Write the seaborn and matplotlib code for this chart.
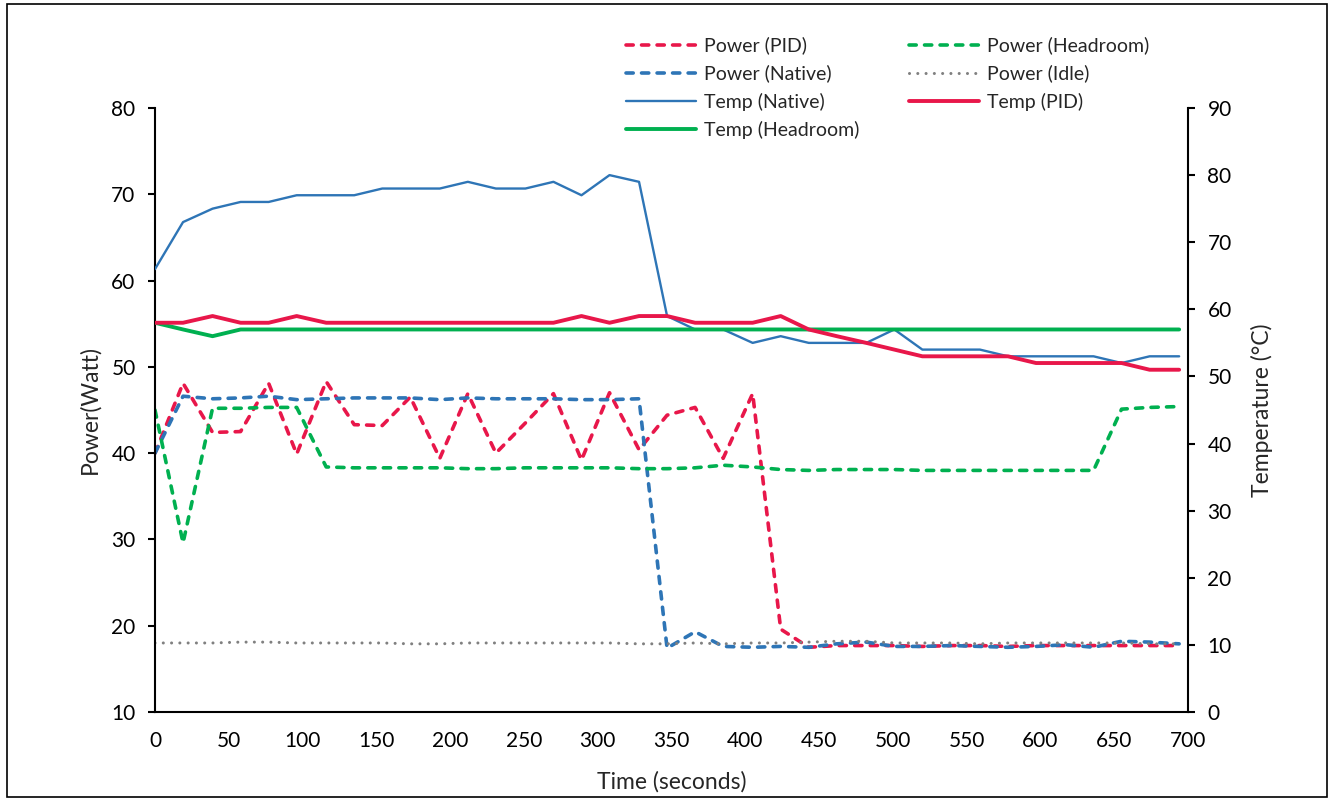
import matplotlib
matplotlib.use("Agg")
import matplotlib.pyplot as plt
import seaborn as sns
import pandas as pd
from matplotlib.patches import Rectangle

# sample times (seconds)
time_s = [0, 19, 39, 58, 77, 96, 116, 135, 154, 173, 193, 212, 231, 251, 270, 289,
          308, 328, 347, 366, 385, 405, 424, 443, 462, 482, 501, 520, 540, 559, 578,
          597, 617, 636, 655, 674, 694]

# power (W), left axis
power_pid = [40.0, 48.1, 42.4, 42.5, 48.1, 39.9, 48.3, 43.3, 43.2, 46.5, 39.4, 46.9,
             40.0, 43.5, 46.9, 39.2, 47.0, 40.4, 44.4, 45.3, 39.4, 46.9, 19.6, 17.5,
             17.7, 17.7, 17.7, 17.6, 17.7, 17.7, 17.6, 17.7, 17.7, 17.7, 17.7, 17.7, 17.7]
power_native = [40.0, 46.6, 46.3, 46.4, 46.6, 46.2, 46.3, 46.4, 46.4, 46.4, 46.2, 46.4,
                46.3, 46.3, 46.3, 46.2, 46.2, 46.3, 17.4, 19.3, 17.6, 17.5, 17.6, 17.5,
                17.9, 18.1, 17.6, 17.6, 17.7, 17.6, 17.5, 17.6, 17.8, 17.5, 18.2, 18.1, 17.9]
power_headroom = [45.0, 29.6, 45.2, 45.2, 45.3, 45.3, 38.4, 38.3, 38.3, 38.3, 38.3, 38.2,
                  38.2, 38.3, 38.3, 38.3, 38.3, 38.2, 38.2, 38.3, 38.6, 38.4, 38.1, 38.0,
                  38.1, 38.1, 38.1, 38.0, 38.0, 38.0, 38.0, 38.0, 38.0, 38.0, 45.1, 45.3, 45.4]
power_idle = [18.0, 18.0, 18.0, 18.1, 18.1, 18.0, 18.0, 18.0, 18.0, 17.9, 17.9, 18.0,
              18.0, 18.0, 18.0, 18.0, 18.0, 17.9, 17.9, 18.0, 17.9, 18.0, 18.0, 18.1,
              18.2, 18.2, 18.0, 18.0, 18.0, 17.9, 18.0, 18.0, 18.0, 18.0, 18.0, 17.9, 17.9]

# temperature (°C), right axis
temp_native = [66, 73, 75, 76, 76, 77, 77, 77, 78, 78, 78, 79, 78, 78, 79, 77, 80, 79,
               59, 57, 57, 55, 56, 55, 55, 55, 57, 54, 54, 54, 53, 53, 53, 53, 52, 53, 53]
temp_pid = [58, 58, 59, 58, 58, 59, 58, 58, 58, 58, 58, 58, 58, 58, 58, 59, 58, 59,
            59, 58, 58, 58, 59, 57, 56, 55, 54, 53, 53, 53, 53, 52, 52, 52, 52, 51, 51]
temp_headroom = [58, 57, 56] + [57] * 34

RED = "#E8174A"
BLUE = "#2E75B6"
GREEN = "#00B050"
GREY = "#808080"

df = pd.DataFrame({
    "time": time_s,
    "power_pid": power_pid, "power_native": power_native,
    "power_headroom": power_headroom, "power_idle": power_idle,
    "temp_native": temp_native, "temp_pid": temp_pid, "temp_headroom": temp_headroom,
})

sns.set_style("white")
plt.rcParams["font.family"] = ["Lato", "DejaVu Sans"]

fig = plt.figure(figsize=(13.33, 8.01), dpi=100)
ax1 = fig.add_axes([155 / 1333, 1 - 712 / 801, (1188 - 155) / 1333, (712 - 108) / 801])
ax2 = ax1.twinx()

dash = (0, (2.0, 2.3))
dot = (0, (0.01, 2.7))
lines = {}

def draw(ax, col, color, lw, ls="-", cap="butt"):
    sns.lineplot(data=df, x="time", y=col, ax=ax, color=color, linewidth=lw,
                 linestyle=ls, dash_capstyle=cap, legend=False, errorbar=None)
    lines[col] = ax.lines[-1]

draw(ax1, "power_pid", RED, 2.6, dash, "round")
draw(ax1, "power_native", BLUE, 2.6, dash, "round")
draw(ax1, "power_headroom", GREEN, 2.6, dash, "round")
draw(ax1, "power_idle", GREY, 2.2, dot, "round")
draw(ax2, "temp_native", BLUE, 1.7)
draw(ax2, "temp_headroom", GREEN, 2.8)
draw(ax2, "temp_pid", RED, 2.8)

ax1.set_xlim(0, 700)
ax1.set_ylim(10, 80)
ax2.set_ylim(0, 90)
ax1.set_xticks(range(0, 701, 50))
ax1.set_yticks(range(10, 81, 10))
ax2.set_yticks(range(0, 91, 10))

for ax in (ax1, ax2):
    ax.tick_params(direction="out", length=5, width=1.5, labelsize=15, pad=9,
                   colors="black")
    for s in ax.spines.values():
        s.set_linewidth(1.5)
        s.set_color("black")
    ax.spines["top"].set_visible(False)
ax1.spines["right"].set_visible(False)
ax2.spines["left"].set_visible(False)
ax2.spines["bottom"].set_visible(False)

ax1.set_xlabel("Time (seconds)", fontsize=16.5, labelpad=14)
ax1.set_ylabel("Power(Watt)", fontsize=16.5, labelpad=8)
ax2.set_ylabel("Temperature (°C)", fontsize=16.5, labelpad=14)

order = ["power_pid", "power_native", "temp_native", "temp_headroom",
         "power_headroom", "power_idle", "temp_pid"]
labels = ["Power (PID)", "Power (Native)", "Temp (Native)", "Temp (Headroom)",
          "Power (Headroom)", "Power (Idle)", "Temp (PID)"]
fig.legend([lines[k] for k in order], labels, loc="upper left", ncol=2,
           bbox_to_anchor=(616 / 1333, 1 - 27 / 801), frameon=False, borderpad=0,
           fontsize=14, handlelength=3.6, handletextpad=0.4, columnspacing=2.6,
           labelspacing=0.52)

fig.patches.append(Rectangle((7 / 1333, 4 / 801), 1320 / 1333, 793 / 801,
                             transform=fig.transFigure, fill=False,
                             edgecolor="black", linewidth=1.2))

fig.savefig("out.png", dpi=100)
